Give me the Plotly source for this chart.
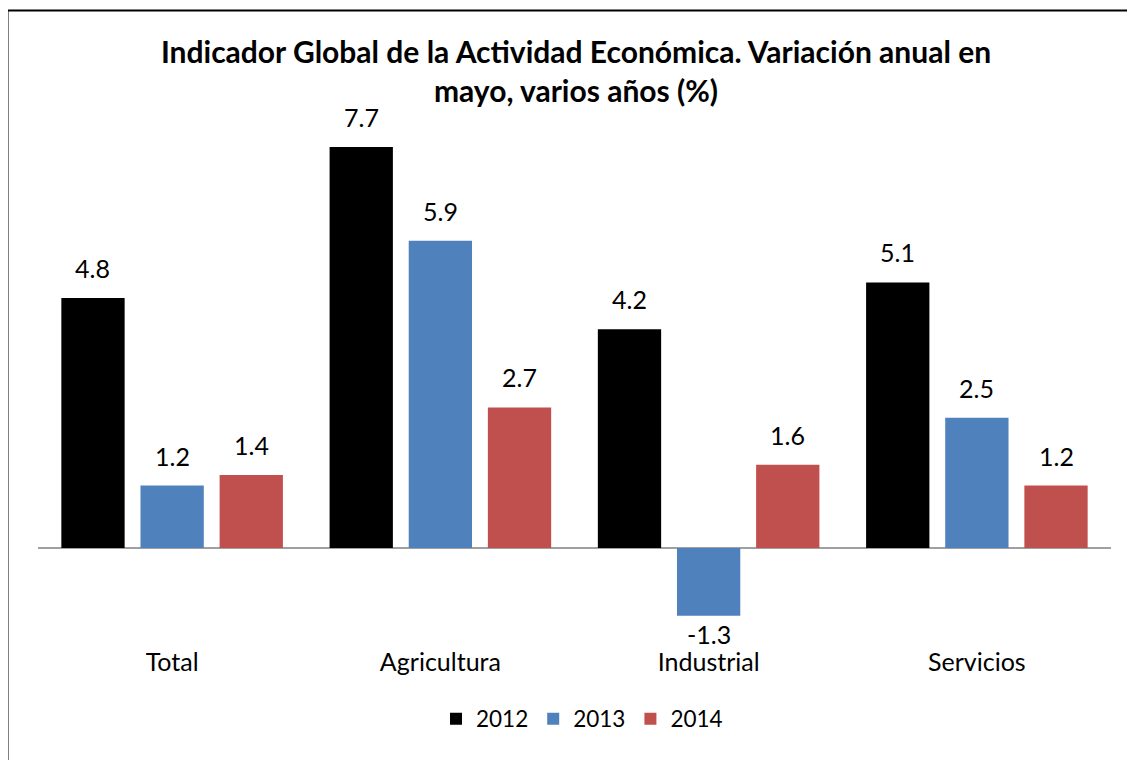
import plotly.graph_objects as go

categories = ["Total", "Agricultura", "Industrial", "Servicios"]
years = ["2012", "2013", "2014"]
v2012 = [4.8, 7.7, 4.2, 5.1]
v2013 = [1.2, 5.9, -1.3, 2.5]
v2014 = [1.4, 2.7, 1.6, 1.2]
colors = ["#000000", "#4F81BD", "#C0504D"]

W, H = 1135, 760
L, R, T, B = 30, 32, 92, 123
plot_h = H - T - B
plot_w = W - L - R
px_per_unit = 52.08
zero_px = 540 - T  # zero line measured from plot top
ymax = zero_px / px_per_unit
ymin = -(plot_h - zero_px) / px_per_unit

BARGAP, GROUPGAP = 0.115, 0.2
FONT = "Lato"
FS = 25

fig = go.Figure()
series = [v2012, v2013, v2014]
for name, vals, col in zip(years, series, colors):
    fig.add_trace(go.Bar(
        name=name, x=categories, y=vals,
        marker=dict(color=col, line=dict(width=0)),
        cliponaxis=False,
    ))

# data labels as annotations positioned on each bar
cat_w = plot_w / len(categories)
slot = cat_w * (1 - BARGAP) / len(series)
annotations = []
for i, vals in enumerate(series):
    off = (i - (len(series) - 1) / 2) * slot
    for c, v in zip(categories, vals):
        annotations.append(dict(
            x=c, y=v, xref="x", yref="y", text=f"{v:.1f}", showarrow=False,
            xshift=off, yanchor="bottom" if v >= 0 else "top",
            yshift=13 if v >= 0 else -1,
            font=dict(family=FONT, size=FS, color="#000000"),
        ))

fig.update_layout(
    width=W, height=H,
    margin=dict(l=L, r=R, t=T, b=B),
    paper_bgcolor="white", plot_bgcolor="white",
    barmode="group", bargap=BARGAP, bargroupgap=GROUPGAP,
    font=dict(family=FONT, color="#000000"),
    title=dict(
        text="<b>Indicador Global de la Actividad Económica. Variación anual en<br>mayo, varios años (%)</b>",
        x=568 / W, xanchor="center", xref="container",
        y=1 - 54.5 / H, yanchor="top", yref="container",
        font=dict(family=FONT, size=30, color="#000000"),
    ),
    xaxis=dict(showgrid=False, showline=False, ticks="",
               tickfont=dict(family=FONT, size=FS, color="#000000")),
    yaxis=dict(range=[ymin, ymax], showgrid=False, showticklabels=False,
               zeroline=True, zerolinecolor="#A0A0A0", zerolinewidth=2,
               showline=False, ticks=""),
    legend=dict(orientation="h", x=(574 - L) / plot_w, xanchor="center",
                y=-(711 - (H - B)) / plot_h, yanchor="middle",
                font=dict(family=FONT, size=22.5, color="#000000"),
                traceorder="normal", itemwidth=30),
    showlegend=True,
    annotations=annotations,
    shapes=[dict(type="rect", xref="paper", yref="paper",
                 x0=(-0.5 - L) / plot_w, x1=(W + 20 - L) / plot_w,
                 y0=-(H + 20 - (H - B)) / plot_h, y1=((H - B) - 2.5) / plot_h,
                 line=dict(color="#000000", width=2), fillcolor="rgba(0,0,0,0)",
                 layer="above")],
)

fig.write_html("out.html")
